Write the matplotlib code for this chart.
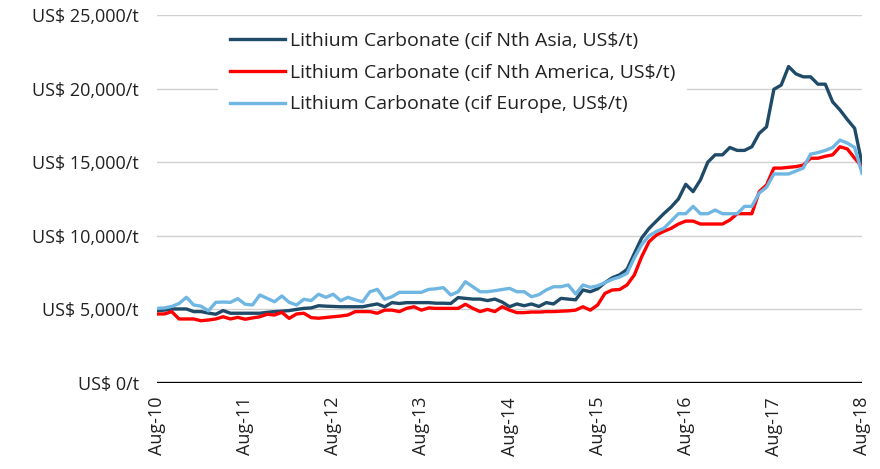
import matplotlib
matplotlib.use("Agg")
import matplotlib.pyplot as plt
from matplotlib.ticker import FuncFormatter

plt.rcParams['font.family'] = ['Open Sans', 'DejaVu Sans']

# monthly prices Aug-10 .. Aug-18, US$ '000/t
asia = [4.92, 4.95, 5.03, 5.03, 5.03, 4.85, 4.85, 4.75, 4.67, 4.92,
        4.74, 4.74, 4.74, 4.74, 4.74, 4.80, 4.85, 4.88, 4.92, 5.00,
        5.07, 5.10, 5.25, 5.22, 5.20, 5.18, 5.18, 5.18, 5.18, 5.28,
        5.37, 5.18, 5.46, 5.40, 5.46, 5.46, 5.46, 5.46, 5.42, 5.42,
        5.40, 5.80, 5.75, 5.70, 5.70, 5.60, 5.70, 5.50, 5.18, 5.37,
        5.25, 5.37, 5.20, 5.46, 5.37, 5.75, 5.70, 5.65, 6.32, 6.20,
        6.40, 6.82, 7.15, 7.35, 7.72, 8.80, 9.85, 10.50, 11.00, 11.50,
        11.95, 12.50, 13.50, 13.00, 13.80, 15.00, 15.50, 15.50, 16.00, 15.80,
        15.80, 16.05, 16.96, 17.40, 19.95, 20.24, 21.50, 21.00, 20.80, 20.80,
        20.30, 20.30, 19.10, 18.55, 17.90, 17.30, 14.90]

america = [4.69, 4.69, 4.85, 4.35, 4.35, 4.35, 4.23, 4.28, 4.35, 4.50,
           4.35, 4.46, 4.33, 4.42, 4.50, 4.67, 4.62, 4.80, 4.39, 4.69,
           4.74, 4.44, 4.40, 4.45, 4.50, 4.55, 4.62, 4.85, 4.85, 4.85,
           4.74, 4.95, 4.95, 4.85, 5.07, 5.18, 4.95, 5.10, 5.07, 5.07,
           5.07, 5.07, 5.35, 5.07, 4.85, 5.00, 4.85, 5.18, 4.95, 4.78,
           4.78, 4.82, 4.82, 4.85, 4.85, 4.88, 4.90, 4.95, 5.18, 4.95,
           5.30, 6.09, 6.32, 6.35, 6.66, 7.34, 8.58, 9.60, 10.05, 10.30,
           10.50, 10.80, 11.00, 11.00, 10.80, 10.80, 10.80, 10.80, 11.07, 11.50,
           11.50, 11.50, 13.00, 13.45, 14.60, 14.60, 14.65, 14.70, 14.80, 15.27,
           15.27, 15.40, 15.50, 16.05, 15.90, 15.27, 14.70]

europe = [5.07, 5.10, 5.20, 5.40, 5.82, 5.30, 5.22, 4.90, 5.48, 5.50,
          5.48, 5.73, 5.35, 5.30, 5.98, 5.75, 5.52, 5.91, 5.48, 5.30,
          5.69, 5.60, 6.03, 5.82, 6.03, 5.59, 5.82, 5.65, 5.52, 6.20,
          6.36, 5.69, 5.86, 6.16, 6.16, 6.16, 6.16, 6.36, 6.40, 6.48,
          5.98, 6.20, 6.88, 6.54, 6.20, 6.20, 6.27, 6.35, 6.43, 6.20,
          6.20, 5.86, 6.00, 6.32, 6.54, 6.54, 6.66, 6.05, 6.66, 6.50,
          6.60, 6.82, 7.04, 7.20, 7.45, 8.50, 9.40, 10.00, 10.30, 10.50,
          11.00, 11.50, 11.50, 12.00, 11.50, 11.50, 11.75, 11.50, 11.50, 11.50,
          12.00, 12.00, 12.90, 13.30, 14.20, 14.20, 14.20, 14.40, 14.60, 15.55,
          15.65, 15.80, 16.00, 16.50, 16.30, 16.00, 14.25]

tick_labels = ["Aug-10", "Aug-11", "Aug-12", "Aug-13", "Aug-14",
               "Aug-15", "Aug-16", "Aug-17", "Aug-18"]

fig = plt.figure(figsize=(8.8, 4.69), dpi=100)
ax = fig.add_axes([157 / 880, 86 / 469, 705 / 880, 368 / 469])

months = range(len(asia))
ax.plot(months, [v * 1000 for v in asia], color="#1f4a68", lw=2.4,
        label="Lithium Carbonate (cif Nth Asia, US$/t)")
ax.plot(months, [v * 1000 for v in america], color="#ff0000", lw=2.4,
        label="Lithium Carbonate (cif Nth America, US$/t)")
ax.plot(months, [v * 1000 for v in europe], color="#70b6e2", lw=2.4,
        label="Lithium Carbonate (cif Europe, US$/t)")

ax.set_xlim(0, len(asia) - 1)
ax.set_ylim(0, 25000)
ax.set_yticks(range(0, 25001, 5000))
ax.yaxis.set_major_formatter(FuncFormatter(lambda v, p: "US$ {:,.0f}/t".format(v)))
ax.set_xticks(range(0, len(asia), 12))
ax.set_xticklabels(tick_labels, rotation=90)
ax.grid(axis="y", color="#d0d0d0", lw=1)
ax.set_axisbelow(True)
ax.axhline(0, color="black", lw=2.4, zorder=5)

for s in ax.spines.values():
    s.set_visible(False)
ax.tick_params(axis="both", length=0, labelsize=13, colors="#222222")
ax.tick_params(axis="y", pad=13)
ax.tick_params(axis="x", pad=10)

leg = ax.legend(loc="upper left", bbox_to_anchor=(0.087, 0.986), fontsize=14,
                frameon=True, fancybox=False, edgecolor="none", facecolor="white",
                framealpha=1, handlelength=2.83, handletextpad=0.26,
                labelspacing=0.71, borderpad=0.6, borderaxespad=0)
for t in leg.get_texts():
    t.set_color("#222222")

fig.savefig("out.png", dpi=100)
